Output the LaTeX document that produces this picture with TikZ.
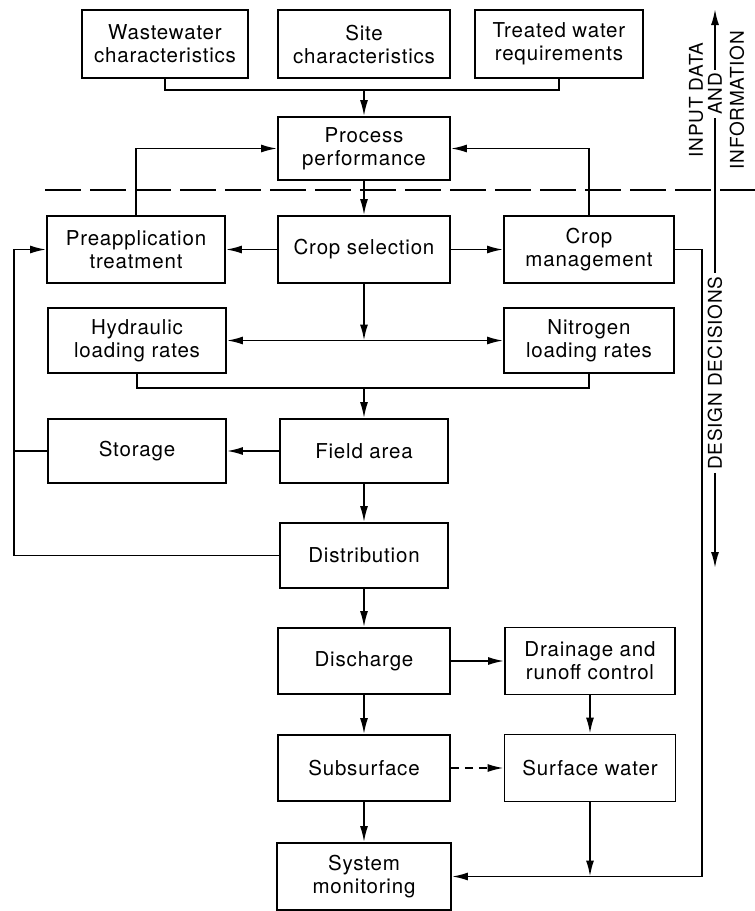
\documentclass[tikz,border=0pt]{standalone}
\usepackage{fontspec}
\setmainfont{TeX Gyre Heros}[LetterSpace=4]
\usetikzlibrary{positioning, arrows.meta, calc}

\begin{document}
\begin{tikzpicture}[
    x=1pt, y=-1pt,
    box/.style={rectangle, draw=black, line width=1.8pt, minimum width=172pt, minimum height=66pt,
                align=center, inner sep=2pt, font=\fontsize{20.5}{23}\selectfont},
    leftbox/.style={box, minimum width=178pt},
    rightbox/.style={box, minimum width=170pt},
    link/.style={line width=1.8pt},
    arr/.style={line width=1.8pt, -{Latex[length=16pt, width=8pt]}},
    split/.style={line width=1.4pt, dash pattern=on 36pt off 9pt},
    side/.style={font=\fontsize{19}{20.5}\selectfont, rotate=90, inner sep=3pt}
]
\useasboundingbox (0,0) rectangle (755,911);

% === Input data ===
\node[box, minimum width=166pt, minimum height=68pt] (ww) at (165,44) {Wastewater\\characteristics};
\node[box, minimum height=68pt] (site) at (364,44) {Site\\characteristics};
\node[box, minimum width=168pt, minimum height=68pt] (tw) at (559,44) {Treated water\\requirements};
\node[box, minimum height=63pt] (proc) at (364,148.5) {Process\\performance};

\coordinate (joinA) at (364,90);
\draw[link] (ww.south) |- (joinA) -| (tw.south);
\draw[arr] (joinA) -- (proc.north);

% Divider between input and design
\draw[split] (45,190) -- (755,190);

% === Crop row ===
\node[leftbox, minimum height=67pt] (pre) at (136,249.5) {Preapplication\\treatment};
\node[box, minimum height=67pt] (crop) at (364,249.5) {Crop selection};
\node[rightbox, minimum height=67pt] (cmg) at (589,249.5) {Crop\\management};

\draw[arr] (pre.north) |- (proc.west);
\draw[arr] (cmg.north) |- (proc.east);
\draw[arr] (proc) -- (crop);
\draw[arr] (crop) -- (pre);
\draw[arr] (crop) -- (cmg);

% === Loading rates ===
\node[leftbox, minimum height=65pt] (hyd) at (137,340.5) {Hydraulic\\loading rates};
\node[rightbox, minimum height=65pt] (nit) at (589,340.5) {Nitrogen\\loading rates};

\coordinate (fork) at (crop.south |- hyd.east);
\draw[arr] (crop.south) -- (fork);
\draw[arr] (fork) -- (hyd.east);
\draw[arr] (fork) -- (nit.west);

% === Field area and storage ===
\node[box, minimum width=168pt, minimum height=64pt] (field) at (364,451) {Field area};
\node[leftbox, minimum height=64pt] (stor) at (137,451) {Storage};
\node[box, minimum width=168pt, minimum height=65pt] (dist) at (364,555.5) {Distribution};

\coordinate (joinB) at (364,388);
\draw[link] (hyd.south) |- (joinB) -| (nit.south);
\draw[arr] (joinB) -- (field.north);
\draw[arr] (field) -- (stor);
\draw[arr] (field) -- (dist);

% loop back to preapplication
\coordinate (loopL) at (14,249.5);
\draw[link] (stor.west) -- (stor.west -| loopL);
\draw[arr] (dist.west) -| (loopL) -- (pre.west);

% === Discharge ===
\node[box] (dis) at (364,661) {Discharge};
\node[rightbox, minimum height=67pt] (drn) at (590,661) {Drainage and\\runoff control};
\node[box] (sub) at (364,768) {Subsurface};
\node[rightbox, minimum width=171pt, minimum height=67pt] (sfw) at (590,768) {Surface water};
\node[box, minimum width=174pt, minimum height=67pt] (mon) at (364,876.5) {System\\monitoring};

\draw[arr] (dist) -- (dis);
\draw[arr] (dis) -- (drn);
\draw[arr] (dis) -- (sub);
\draw[arr] (drn) -- (sfw);
\draw[arr, dash pattern=on 8pt off 6pt] (sub) -- (sfw);
\draw[arr] (sub) -- (mon);

% return line to monitoring
\coordinate (retR) at (702,876.5);
\coordinate (sfwIn) at (sfw.south |- retR);
\draw[arr] (cmg.east) -| (retR) -- (mon.east);
\draw[arr] (sfw.south) -- (sfwIn);

% === Side labels ===
\node[side] (ida) at (696,100) {INPUT DATA};
\node[side] (andl) at (715,94) {AND};
\node[side] (info) at (737,100) {INFORMATION};
\node[side] (dsg) at (715,373) {DESIGN DECISIONS};
\coordinate (upTip) at (715,9);
\coordinate (downTip) at (715,568);
\draw[arr] (andl.east) -- (upTip);
\draw[link] (andl.west) -- (dsg.east);
\draw[arr] (dsg.west) -- (downTip);

\end{tikzpicture}
\end{document}
